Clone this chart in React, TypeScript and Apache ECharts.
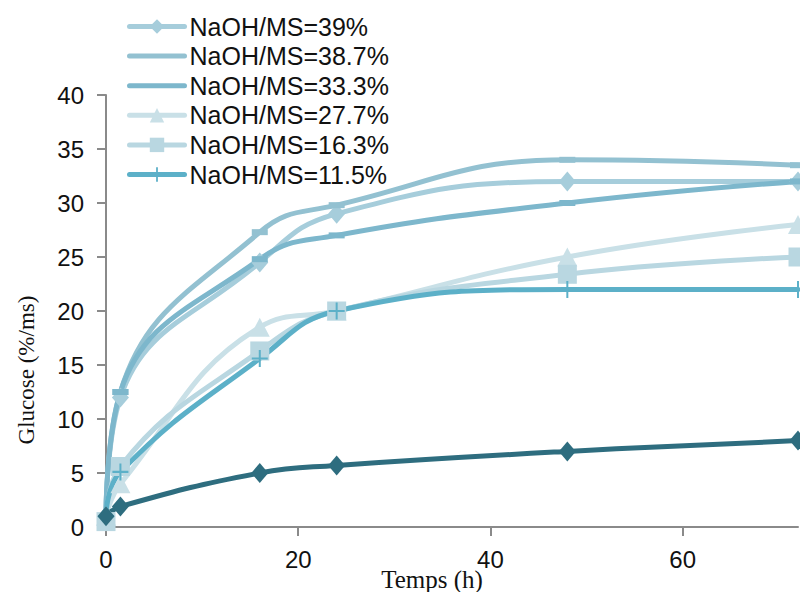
import React, { useEffect, useRef } from "react";
import * as echarts from "echarts";

const hours = [0, 1.5, 16, 24, 48, 72];
const naoh39 = [1, 12, 24.5, 29, 32, 32];
const naoh387 = [1, 12.5, 27.3, 29.8, 34, 33.5];
const naoh333 = [1, 12.5, 24.8, 27, 30, 32];
const naoh277 = [1, 4, 18.5, 20, 25, 28];
const naoh163 = [0.5, 5.6, 16.3, 20, 23.4, 25];
const naoh115 = [1, 5.1, 15.6, 20, 22, 22];
const control = [1, 1.9, 5, 5.7, 7, 8];

const names = [
  "NaOH/MS=39%",
  "NaOH/MS=38.7%",
  "NaOH/MS=33.3%",
  "NaOH/MS=27.7%",
  "NaOH/MS=16.3%",
  "NaOH/MS=11.5%",
];
const controlName = "Témoin";
const xTicks = [0, 20, 40, 60];
const yTitle = "Glucose (%/ms)";
const xTitle = "Temps (h)";

const pts = (ys: number[]) => hours.map((h, i) => [h, ys[i]]);

const plusPath = "path://M7,0H9V7H16V9H9V16H7V9H0V7H7Z";

export default function App() {
  const ref = useRef<HTMLDivElement>(null);
  useEffect(() => {
    document.body.style.margin = "0";
    if (!ref.current) return;
    const chart = echarts.init(ref.current, null, { renderer: "svg" });
    const mk = (
      name: string,
      ys: number[],
      color: string,
      symbol: string,
      symbolSize: any
    ) => ({
      name,
      type: "line",
      data: pts(ys),
      smooth: 0.45,
      symbol,
      symbolSize,
      showSymbol: true,
      lineStyle: { color, width: 5, cap: "round", join: "round" },
      itemStyle: { color, borderWidth: 0 },
      emphasis: { disabled: true },
      z: 3,
    });
    chart.setOption({
      animation: false,
      grid: { left: 106, right: 2, top: 95, bottom: 65 },
      legend: {
        data: names.map((n, i) =>
          i === 1 || i === 2 ? { name: n, itemStyle: { opacity: 0 } } : { name: n }
        ),
        orient: "vertical",
        left: 127,
        top: 14,
        padding: 0,
        itemWidth: 55,
        itemHeight: 18,
        itemGap: 4.6,
        lineStyle: { width: 5, cap: "round" },
        textStyle: {
          fontFamily: "Liberation Sans",
          fontSize: 25,
          color: "#111",
          lineHeight: 25,
        },
      },
      xAxis: {
        type: "value",
        min: 0,
        max: 72,
        interval: 20,
        axisLine: { lineStyle: { color: "#8a8a8a", width: 2 } },
        axisTick: { length: 9, lineStyle: { color: "#8a8a8a", width: 2 } },
        axisLabel: {
          showMaxLabel: false,
          fontFamily: "Liberation Sans",
          fontSize: 24,
          color: "#111",
          margin: 20,
          formatter: (v: number) => (xTicks.includes(v) ? String(v) : ""),
        },
        splitLine: { show: false },
      },
      yAxis: {
        type: "value",
        min: 0,
        max: 40,
        interval: 5,
        axisLine: { show: true, lineStyle: { color: "#8a8a8a", width: 2 } },
        axisTick: { show: true, length: 9, lineStyle: { color: "#8a8a8a", width: 2 } },
        axisLabel: {
          fontFamily: "Liberation Sans",
          fontSize: 24,
          color: "#111",
          margin: 22,
        },
        splitLine: { show: false },
      },
      graphic: [
        {
          type: "text",
          x: 432,
          y: 579,
          style: {
            text: xTitle,
            font: "25px 'Liberation Serif'",
            fill: "#111",
            align: "center",
            verticalAlign: "middle",
          },
        },
        {
          type: "text",
          x: 26,
          y: 370,
          rotation: Math.PI / 2,
          style: {
            text: yTitle,
            font: "23px 'Liberation Serif'",
            fill: "#111",
            align: "center",
            verticalAlign: "middle",
          },
        },
      ],
      series: [
        mk(names[0], naoh39, "#a6cddb", "diamond", [17, 20]),
        mk(names[1], naoh387, "#93c1d1", "rect", [16, 6]),
        mk(names[2], naoh333, "#7db7cc", "rect", [16, 6]),
        mk(names[3], naoh277, "#c9e0e7", "triangle", [20, 19]),
        mk(names[4], naoh163, "#b9d7e1", "rect", [19, 19]),
        mk(names[5], naoh115, "#5cb0c8", plusPath, [16, 17]),
        mk(controlName, control, "#2e6d7f", "diamond", [17, 20]),
      ],
    });
    return () => chart.dispose();
  }, []);
  return (
    <div
      ref={ref}
      style={{ position: "absolute", left: 0, top: 0, width: 800, height: 592 }}
    />
  );
}
